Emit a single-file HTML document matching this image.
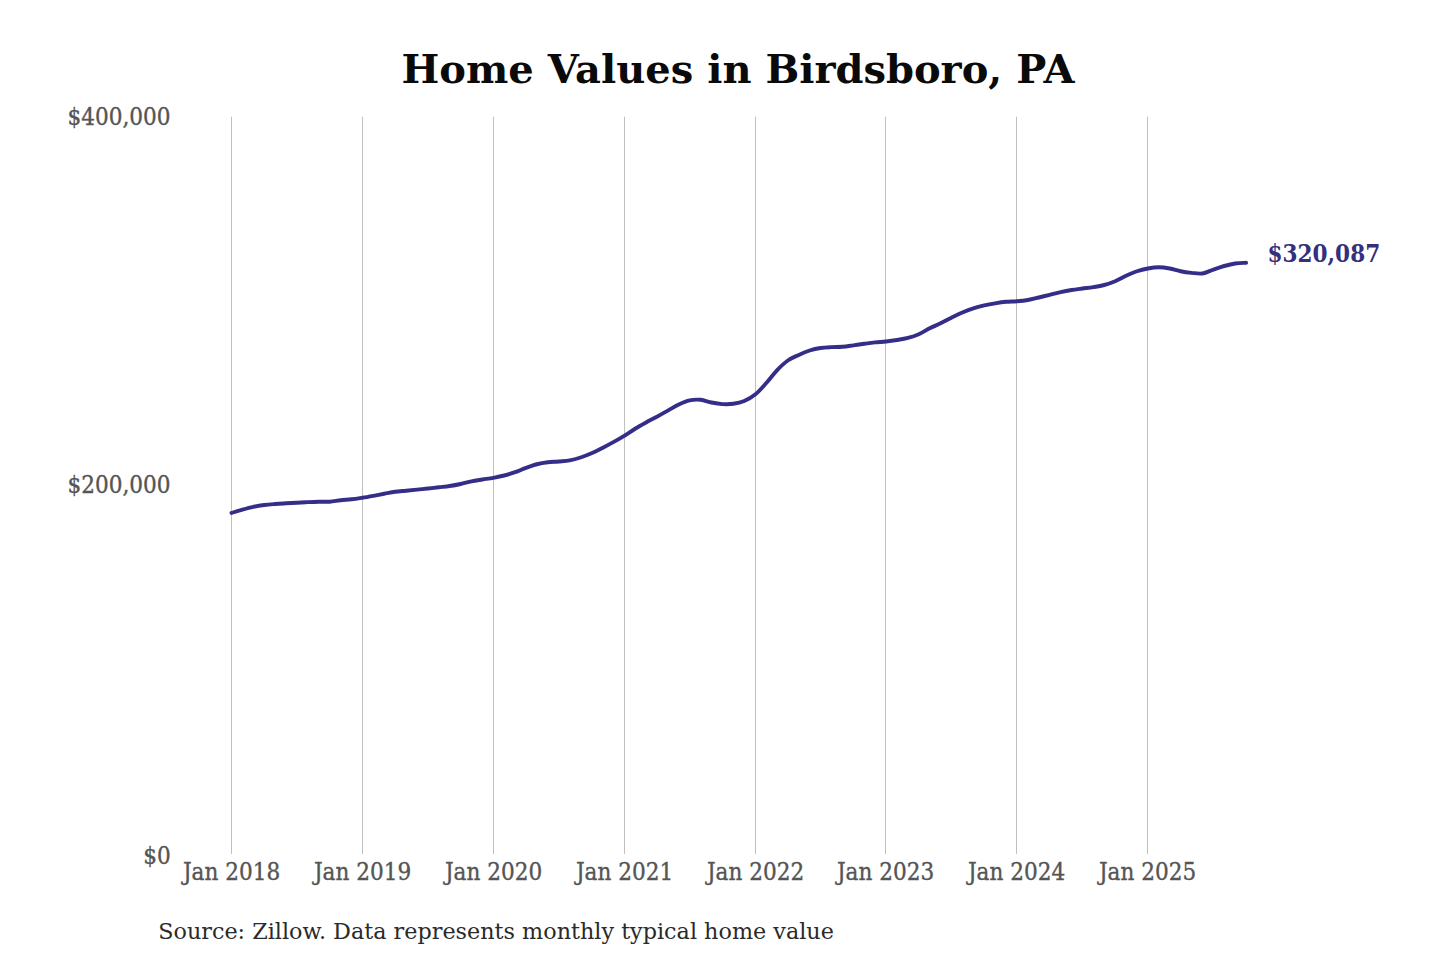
<!DOCTYPE html>
<html><head><meta charset="utf-8"><title>Home Values in Birdsboro, PA</title>
<style>
html,body{margin:0;padding:0;background:#fff;}
body{width:1440px;height:960px;overflow:hidden;position:relative;}
svg{position:absolute;left:0;top:0;display:block;}
.t{font-family:"DejaVu Serif",serif;font-weight:bold;font-size:40px;fill:#0a0a0a;}
.ax{font-family:"DejaVu Serif Condensed","DejaVu Serif",serif;font-size:24px;fill:#555;stroke:#555;stroke-width:0.35px;}
.src{font-family:"DejaVu Serif",serif;font-size:22.3px;fill:#2a2a2a;}
.lab{font-family:"DejaVu Serif Condensed","DejaVu Serif",serif;font-weight:bold;font-size:24px;fill:#33307d;}
</style></head>
<body>
<svg width="1440" height="960" viewBox="0 0 1440 960">
<text class="t" x="738" y="83" text-anchor="middle">Home Values in Birdsboro, PA</text>
<g stroke="#bfbfbf" stroke-width="1" fill="none">
<line x1="231.50" y1="116.8" x2="231.50" y2="854" />
<line x1="362.50" y1="116.8" x2="362.50" y2="854" />
<line x1="493.50" y1="116.8" x2="493.50" y2="854" />
<line x1="624.50" y1="116.8" x2="624.50" y2="854" />
<line x1="755.50" y1="116.8" x2="755.50" y2="854" />
<line x1="885.50" y1="116.8" x2="885.50" y2="854" />
<line x1="1016.50" y1="116.8" x2="1016.50" y2="854" />
<line x1="1147.50" y1="116.8" x2="1147.50" y2="854" />
</g>
<g class="ax" text-anchor="end">
<text x="170.5" y="125">$400,000</text>
<text x="170.5" y="493">$200,000</text>
<text x="170.7" y="864">$0</text>
</g>
<g class="ax" text-anchor="middle">
<text x="231.50" y="880">Jan 2018</text>
<text x="362.50" y="880">Jan 2019</text>
<text x="493.50" y="880">Jan 2020</text>
<text x="624.50" y="880">Jan 2021</text>
<text x="755.50" y="880">Jan 2022</text>
<text x="885.50" y="880">Jan 2023</text>
<text x="1016.50" y="880">Jan 2024</text>
<text x="1147.50" y="880">Jan 2025</text>
</g>
<path d="M231.50,512.90 C233.32,512.35 238.77,510.62 242.41,509.60 C246.05,508.58 249.68,507.57 253.32,506.80 C256.96,506.03 260.59,505.47 264.23,505.00 C267.87,504.53 271.50,504.28 275.14,504.00 C278.77,503.72 282.41,503.52 286.05,503.30 C289.68,503.08 293.32,502.90 296.96,502.70 C300.59,502.50 304.23,502.27 307.87,502.10 C311.50,501.93 315.14,501.77 318.78,501.70 C322.41,501.63 326.05,501.95 329.69,501.70 C333.32,501.45 336.96,500.60 340.60,500.20 C344.23,499.80 347.87,499.72 351.50,499.30 C355.14,498.88 358.78,498.28 362.41,497.70 C366.05,497.12 369.69,496.46 373.32,495.80 C376.96,495.14 380.60,494.42 384.23,493.75 C387.87,493.08 391.51,492.31 395.14,491.80 C398.78,491.29 402.42,491.07 406.05,490.70 C409.69,490.33 413.33,489.97 416.96,489.60 C420.60,489.23 424.23,488.89 427.87,488.50 C431.51,488.11 435.14,487.67 438.78,487.25 C442.42,486.83 446.05,486.54 449.69,486.00 C453.33,485.46 456.96,484.78 460.60,484.00 C464.24,483.22 467.87,482.05 471.51,481.30 C475.15,480.55 478.78,480.08 482.42,479.50 C486.06,478.92 489.69,478.47 493.33,477.80 C496.97,477.13 500.60,476.43 504.24,475.50 C507.87,474.57 511.51,473.48 515.15,472.20 C518.78,470.92 522.42,469.12 526.06,467.80 C529.69,466.48 533.33,465.17 536.97,464.25 C540.60,463.33 544.24,462.76 547.88,462.30 C551.51,461.84 555.15,461.82 558.79,461.50 C562.42,461.18 566.06,461.07 569.70,460.40 C573.33,459.73 576.97,458.68 580.60,457.50 C584.24,456.32 587.88,454.90 591.51,453.30 C595.15,451.70 598.79,449.77 602.42,447.90 C606.06,446.03 609.70,444.12 613.33,442.10 C616.97,440.08 620.61,438.03 624.24,435.80 C627.88,433.57 631.52,430.97 635.15,428.75 C638.79,426.53 642.43,424.51 646.06,422.50 C649.70,420.49 653.33,418.68 656.97,416.70 C660.61,414.72 664.24,412.65 667.88,410.60 C671.52,408.55 675.15,406.12 678.79,404.40 C682.43,402.68 686.06,401.07 689.70,400.30 C693.34,399.53 696.97,399.43 700.61,399.80 C704.25,400.17 707.88,401.78 711.52,402.50 C715.16,403.22 718.79,403.88 722.43,404.10 C726.07,404.32 729.70,404.32 733.34,403.80 C736.97,403.28 740.61,402.53 744.25,401.00 C747.88,399.47 751.52,397.55 755.16,394.60 C758.79,391.65 762.43,387.35 766.07,383.30 C769.70,379.25 773.34,374.10 776.98,370.30 C780.61,366.50 784.25,363.07 787.89,360.50 C791.52,357.93 795.16,356.57 798.80,354.90 C802.43,353.23 806.07,351.65 809.70,350.50 C813.34,349.35 816.98,348.57 820.61,348.00 C824.25,347.43 827.89,347.30 831.52,347.10 C835.16,346.90 838.80,347.08 842.43,346.80 C846.07,346.52 849.71,345.90 853.34,345.40 C856.98,344.90 860.62,344.30 864.25,343.80 C867.89,343.30 871.53,342.78 875.16,342.40 C878.80,342.02 882.43,341.90 886.07,341.50 C889.71,341.10 893.34,340.60 896.98,340.00 C900.62,339.40 904.25,338.87 907.89,337.90 C911.53,336.93 915.16,335.80 918.80,334.20 C922.44,332.60 926.07,330.12 929.71,328.30 C933.35,326.48 936.98,325.07 940.62,323.30 C944.26,321.53 947.89,319.50 951.53,317.70 C955.17,315.90 958.80,314.07 962.44,312.50 C966.07,310.93 969.71,309.48 973.35,308.30 C976.98,307.12 980.62,306.23 984.26,305.40 C987.89,304.57 991.53,303.90 995.17,303.30 C998.80,302.70 1002.44,302.14 1006.08,301.80 C1009.71,301.46 1013.35,301.55 1016.99,301.25 C1020.62,300.95 1024.26,300.62 1027.90,300.00 C1031.53,299.38 1035.17,298.37 1038.80,297.50 C1042.44,296.63 1046.08,295.70 1049.71,294.80 C1053.35,293.90 1056.99,292.90 1060.62,292.10 C1064.26,291.30 1067.90,290.60 1071.53,290.00 C1075.17,289.40 1078.81,288.98 1082.44,288.50 C1086.08,288.02 1089.72,287.68 1093.35,287.10 C1096.99,286.52 1100.63,285.98 1104.26,285.00 C1107.90,284.02 1111.53,282.78 1115.17,281.25 C1118.81,279.72 1122.44,277.47 1126.08,275.80 C1129.72,274.13 1133.35,272.47 1136.99,271.25 C1140.63,270.03 1144.26,269.16 1147.90,268.50 C1151.54,267.84 1155.17,267.30 1158.81,267.30 C1162.45,267.30 1166.08,267.84 1169.72,268.50 C1173.36,269.16 1176.99,270.52 1180.63,271.25 C1184.27,271.98 1187.90,272.48 1191.54,272.85 C1195.17,273.23 1198.81,274.04 1202.45,273.50 C1206.08,272.96 1209.72,270.85 1213.36,269.60 C1216.99,268.35 1220.63,267.02 1224.27,266.00 C1227.90,264.98 1231.54,264.03 1235.18,263.50 C1238.81,262.97 1244.27,262.92 1246.09,262.80" fill="none" stroke="#342e88" stroke-width="3.9" stroke-linecap="round" stroke-linejoin="round"/>
<text class="lab" x="1267.5" y="262.3">$320,087</text>
<text class="src" x="158.2" y="939">Source: Zillow. Data represents monthly typical home value</text>
</svg>
</body></html>
